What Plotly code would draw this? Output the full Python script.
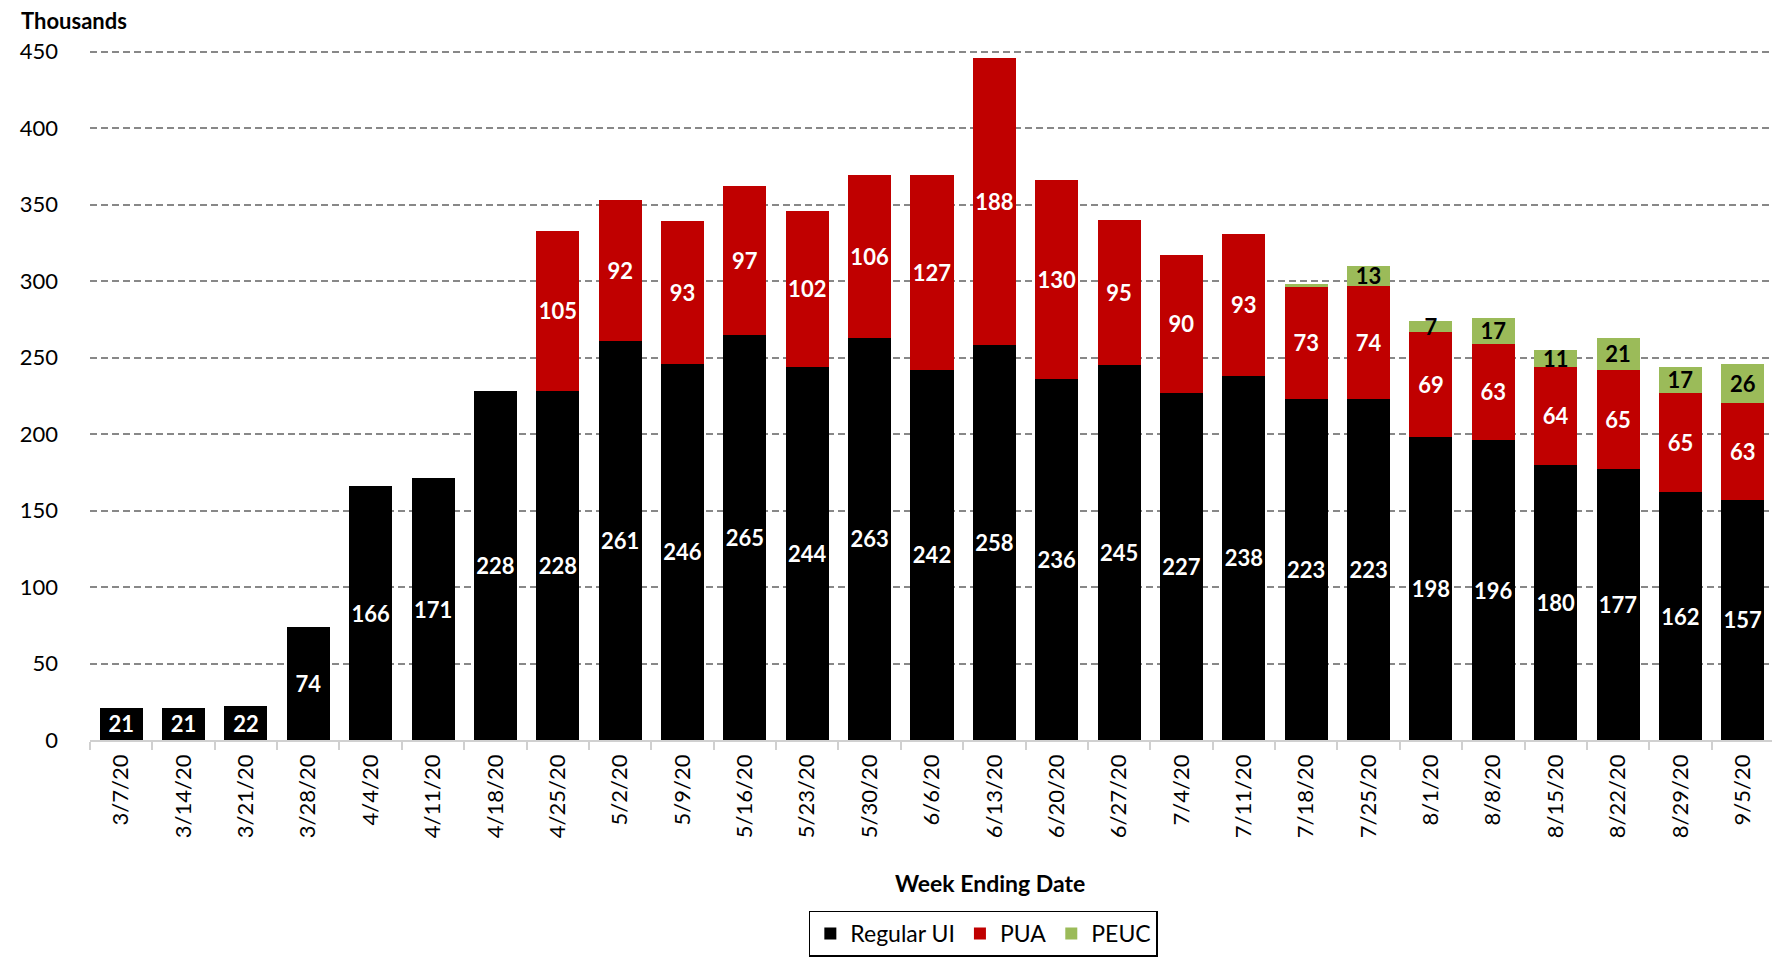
import plotly.graph_objects as go

weeks = ["3/7/20", "3/14/20", "3/21/20", "3/28/20", "4/4/20", "4/11/20", "4/18/20",
         "4/25/20", "5/2/20", "5/9/20", "5/16/20", "5/23/20", "5/30/20", "6/6/20",
         "6/13/20", "6/20/20", "6/27/20", "7/4/20", "7/11/20", "7/18/20", "7/25/20",
         "8/1/20", "8/8/20", "8/15/20", "8/22/20", "8/29/20", "9/5/20"]
regular_ui = [21, 21, 22, 74, 166, 171, 228, 228, 261, 246, 265, 244, 263, 242, 258,
              236, 245, 227, 238, 223, 223, 198, 196, 180, 177, 162, 157]
pua = [0, 0, 0, 0, 0, 0, 0, 105, 92, 93, 97, 102, 106, 127, 188, 130, 95, 90, 93,
       73, 74, 69, 63, 64, 65, 65, 63]
peuc = [0, 0, 0, 0, 0, 0, 0, 0, 0, 0, 0, 0, 0, 0, 0, 0, 0, 0, 0,
        2, 13, 7, 17, 11, 21, 17, 26]
peuc_min_label = 5

FONT = "Lato, Calibri, sans-serif"


def labels(vals, min_label=1):
    return [str(v) if v >= min_label else "" for v in vals]


fig = go.Figure()
series = [
    ("Regular UI", regular_ui, "#000000", "white", 1),
    ("PUA", pua, "#C00000", "white", 1),
    ("PEUC", peuc, "#9BBB59", "black", peuc_min_label),
]
for name, vals, color, tcolor, mn in series:
    fig.add_trace(go.Bar(
        name=name, x=weeks, y=vals, marker=dict(color=color, line=dict(width=0)),
        text=labels(vals, mn), textposition="inside", insidetextanchor="middle",
        textangle=0, cliponaxis=False,
        textfont=dict(family=FONT, size=22, color=tcolor, weight="bold"),
    ))

# page has an 8px body margin; plot area spans x 85..1774, y 50..742 in the window
PW, PH = 1689, 692
fig.update_layout(
    barmode="stack", bargap=0.31,
    width=1780, height=960,
    margin=dict(l=77, r=14, t=42, b=226),
    plot_bgcolor="white", paper_bgcolor="white",
    font=dict(family=FONT, size=22, color="black"),
    uniformtext=dict(minsize=22, mode="show"),
    showlegend=True,
    legend=dict(orientation="h", x=(981 - 85) / PW, xanchor="center",
                y=-(913 - 742) / PH, yanchor="top",
                bordercolor="black", borderwidth=1.5, font=dict(size=23),
                itemwidth=30, traceorder="normal"),
)
fig.update_yaxes(range=[0, 451], dtick=50, showgrid=True, gridcolor="#888888",
                 griddash="7px,4px", gridwidth=1.5, zeroline=False, showline=False,
                 ticks="", ticklabelstandoff=31, tickfont=dict(size=22))
fig.update_xaxes(tickangle=-90, showline=True, linecolor="#d0d0d0", linewidth=1.5,
                 ticks="outside", tickson="boundaries", ticklen=8, tickcolor="#d0d0d0",
                 tickwidth=1.5, tickfont=dict(size=22), ticklabelstandoff=4)

fig.add_annotation(text="<b>Thousands</b>", xref="paper", yref="paper",
                   x=(14 - 85) / PW, y=1 + (50 - 20) / PH, xanchor="left", yanchor="middle",
                   showarrow=False, font=dict(size=22))
fig.add_annotation(text="<b>Week Ending Date</b>", xref="paper", yref="paper",
                   x=(988 - 85) / PW, y=-(885 - 742) / PH, xanchor="center", yanchor="middle",
                   showarrow=False, font=dict(size=23))

fig.write_html("out.html")
